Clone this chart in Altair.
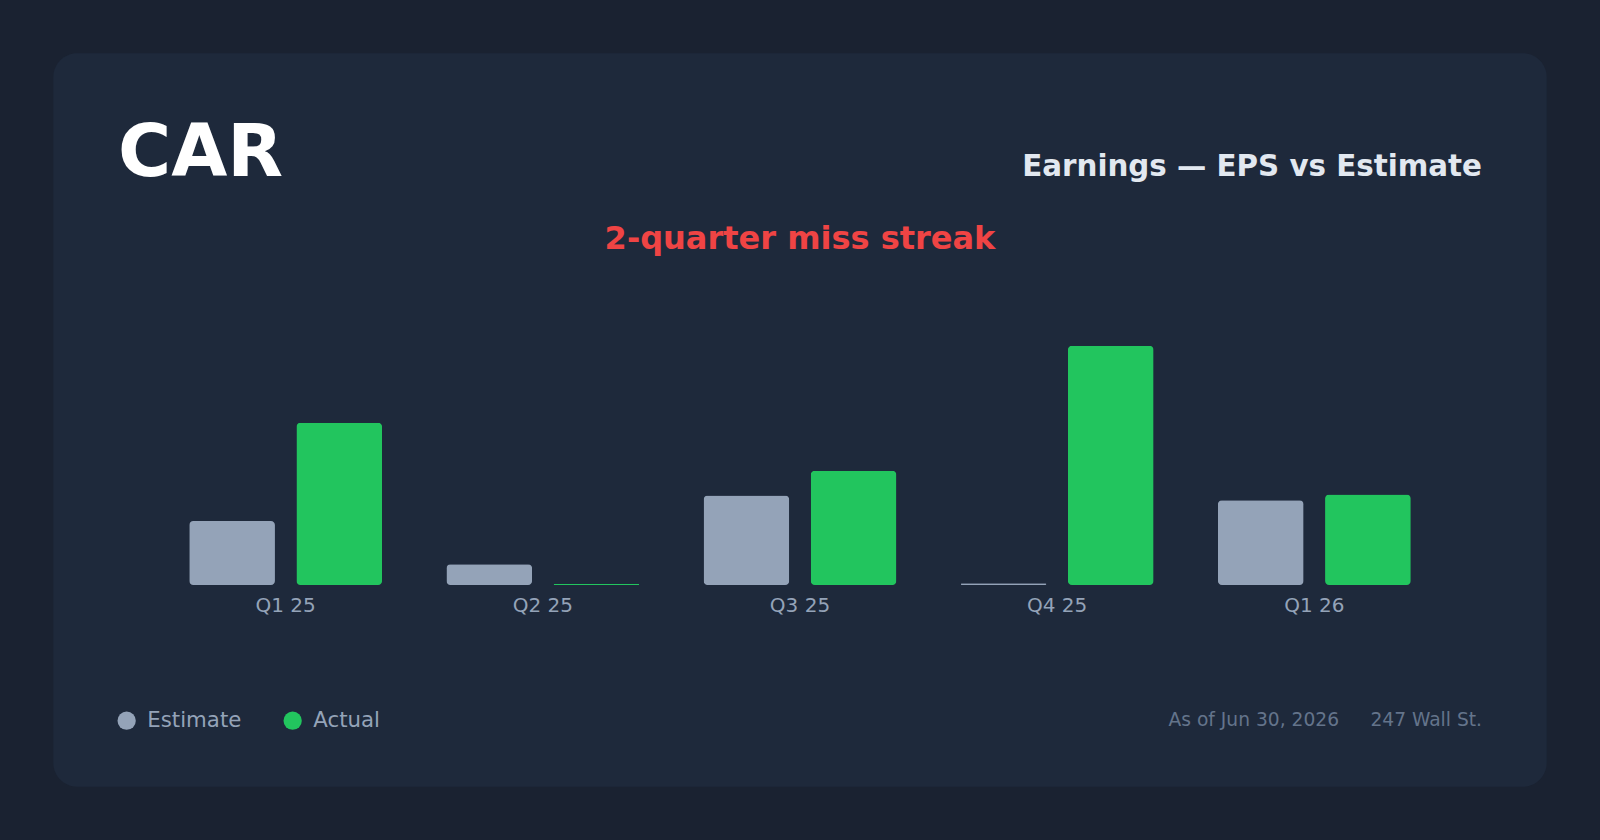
import altair as alt
import pandas as pd

# ---- data ----
quarters = ["Q1 25", "Q2 25", "Q3 25", "Q4 25", "Q1 26"]
estimate = [1.08, 0.35, 1.51, 0.03, 1.43]
actual = [2.74, 0.02, 1.93, 4.04, 1.53]
series = ["Estimate", "Actual"]
series_colors = ["#94a3b8", "#22c55e"]

ticker = "CAR"
subtitle = "Earnings — EPS vs Estimate"
streak = "2-quarter miss streak"
as_of = "As of Jun 30, 2026"
source = "247 Wall St."

rows = []
for q, e, a in zip(quarters, estimate, actual):
    rows.append({"quarter": q, "series": "Estimate", "eps": e})
    rows.append({"quarter": q, "series": "Actual", "eps": a})
df = pd.DataFrame(rows)

FONT = "DejaVu Sans"
PAD_L, PAD_T = 118, 289
W, H = 1364, 296

one = pd.DataFrame({"k": [0]})

card = alt.Chart(one).mark_rect(
    fill="#1e293b", cornerRadius=24
).encode(
    x=alt.value(53.3 - PAD_L), x2=alt.value(1546.7 - PAD_L),
    y=alt.value(53.3 - PAD_T), y2=alt.value(786.7 - PAD_T),
)

bars = alt.Chart(df).mark_bar(cornerRadius=4).encode(
    x=alt.X("quarter:N", sort=quarters,
            scale=alt.Scale(paddingInner=0.25, paddingOuter=0.277),
            axis=alt.Axis(title=None, labelAngle=0, domain=False, ticks=False,
                          grid=False, labelFontSize=20, labelColor="#94a3b8",
                          labelFont=FONT, labelPadding=10, zindex=2)),
    xOffset=alt.XOffset("series:N", sort=series,
                        scale=alt.Scale(domain=series, paddingInner=0.2, paddingOuter=0)),
    y=alt.Y("eps:Q", scale=alt.Scale(domain=[0, 5], nice=False), axis=None),
    color=alt.Color("series:N",
                    scale=alt.Scale(domain=series, range=series_colors),
                    legend=alt.Legend(orient="none", legendX=-2, legendY=421,
                                      direction="horizontal", title=None,
                                      symbolType="circle", symbolSize=335,
                                      symbolStrokeWidth=0, symbolOpacity=1,
                                      labelFontSize=21.3, labelColor="#94a3b8",
                                      labelFont=FONT, labelOffset=10,
                                      columnPadding=40, padding=0, zindex=2)),
)

def txt(s, x, y, size, color, weight="normal", align="left"):
    return alt.Chart(pd.DataFrame({"t": [s]})).mark_text(
        font=FONT, fontSize=size, fontWeight=weight, color=color,
        align=align, baseline="alphabetic"
    ).encode(x=alt.value(x), y=alt.value(y), text="t:N")

t_title = txt(ticker, 0, 176 - PAD_T, 72.5, "#ffffff", "bold")
t_sub = txt(subtitle, W, 175.5 - PAD_T, 29.33, "#e2e8f0", "bold", "right")
t_streak = txt(streak, W / 2, 249 - PAD_T, 32, "#ef4444", "bold", "center")
t_asof = txt(as_of, 1339 - PAD_L, 726 - PAD_T, 18.67, "#64748b", "normal", "right")
t_src = txt(source, W, 726 - PAD_T, 18.67, "#64748b", "normal", "right")

chart = alt.layer(card, bars, t_title, t_sub, t_streak, t_asof, t_src).properties(
    width=W, height=H,
    autosize=alt.AutoSizeParams(type="none"),
    padding={"left": PAD_L, "top": PAD_T, "right": 1600 - PAD_L - W, "bottom": 840 - PAD_T - H},
    background="#1a2231",
).configure_view(stroke=None)

chart.save("out.html", embed_options={"renderer": "svg", "actions": False})
